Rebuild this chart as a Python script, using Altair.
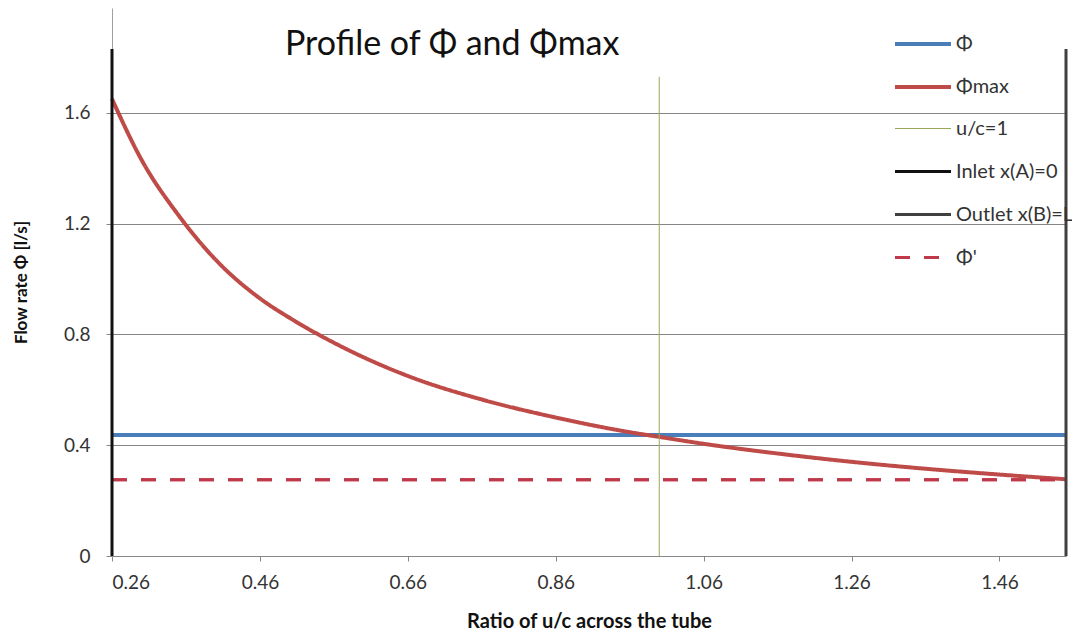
import altair as alt
import pandas as pd

# ---- data ----
series_names = ["Φ", "Φmax", "u/c=1", "Inlet x(A)=0", "Outlet x(B)=L", "Φ'"]
series_colors = ["#4a7ebb", "#be4b48", "#98a85a", "#111111", "#404040", "#c0394b"]
series_widths = [4, 4, 1, 3, 3, 3]
series_dash = [[1, 0], [1, 0], [1, 0], [1, 0], [1, 0], [15, 14]]

x_range = [0.26, 1.55]
phi_value = 0.437
phi_prime_value = 0.275

x_curve = [0.26, 0.30, 0.35, 0.40, 0.46, 0.50, 0.56, 0.66, 0.76, 0.86,
           0.96, 1.00, 1.06, 1.16, 1.26, 1.36, 1.46, 1.55]
phi_max = [1.65, 1.43, 1.23, 1.07, 0.93, 0.86, 0.77, 0.65, 0.565, 0.50,
           0.447, 0.43, 0.405, 0.37, 0.34, 0.315, 0.294, 0.277]

vline_names = ["u/c=1", "Inlet x(A)=0", "Outlet x(B)=L"]
vline_x = [1.00, 0.26, 1.55]
vline_top = [1.73, 1.83, 1.83]

x_ticks = [0.26, 0.46, 0.66, 0.86, 1.06, 1.26, 1.46]
y_ticks = [0, 0.4, 0.8, 1.2, 1.6]

# ---- tables ----
df_curve = pd.DataFrame({"x": x_curve, "y": phi_max, "series": "Φmax"})
df_h = pd.DataFrame({
    "x": x_range * 2,
    "y": [phi_value, phi_value, phi_prime_value, phi_prime_value],
    "series": ["Φ", "Φ", "Φ'", "Φ'"],
})
df_v = pd.DataFrame({"x": vline_x, "y": [0] * 3, "y2": vline_top, "series": vline_names})

FONT = "Lato"
PLOT_H = 548
Y_MAX = 548 / 277.0

xscale = alt.Scale(domain=x_range, nice=False, zero=False)
yscale = alt.Scale(domain=[0, Y_MAX], nice=False, zero=True)

color = alt.Color("series:N", scale=alt.Scale(domain=series_names, range=series_colors))
swidth = alt.StrokeWidth("series:N", scale=alt.Scale(type="ordinal", domain=series_names,
                                                      range=series_widths))
sdash = alt.StrokeDash("series:N", scale=alt.Scale(domain=series_names, range=series_dash))

xaxis = alt.Axis(values=x_ticks, format=".2f", title="Ratio of u/c across the tube",
                 grid=False, domainColor="#868686", tickColor="#868686", tickSize=5,
                 labelFontSize=19, labelFont=FONT, labelColor="#333", labelPadding=12,
                 titleFontSize=20, titleFont=FONT, titleFontWeight="bold", titleColor="#111",
                 titlePadding=19)
yaxis = alt.Axis(values=y_ticks, labelExpr="datum.value == 0 ? '0' : format(datum.value, '.1f')",
                 title="Flow rate Φ [l/s]", grid=True, gridColor="#868686", gridWidth=1,
                 domainColor="#a0a0a0", tickColor="#868686", tickSize=6,
                 labelFontSize=19, labelFont=FONT, labelColor="#333", labelPadding=16,
                 titleFontSize=17, titleFont=FONT, titleFontWeight="bold", titleColor="#111",
                 titlePadding=33)

h_lines = alt.Chart(df_h).mark_line().encode(
    x=alt.X("x:Q", scale=xscale, axis=xaxis),
    y=alt.Y("y:Q", scale=yscale, axis=yaxis),
    color=color, strokeWidth=swidth, strokeDash=sdash,
)
curve = alt.Chart(df_curve).mark_line(interpolate="monotone").encode(
    x=alt.X("x:Q", scale=xscale),
    y=alt.Y("y:Q", scale=yscale),
    color=color, strokeWidth=swidth, strokeDash=sdash,
)
vlines = alt.Chart(df_v).mark_rule().encode(
    x=alt.X("x:Q", scale=xscale),
    y=alt.Y("y:Q", scale=yscale),
    y2="y2:Q",
    color=color, strokeWidth=swidth, strokeDash=sdash,
)
h_dash = alt.Chart(df_h).transform_filter(alt.datum.series == "Φ'").mark_line().encode(
    x=alt.X("x:Q", scale=xscale),
    y=alt.Y("y:Q", scale=yscale),
    color=color, strokeWidth=swidth, strokeDash=sdash,
)

chart = alt.layer(h_lines, curve, h_dash, vlines).properties(
    width=954, height=PLOT_H,
    title=alt.TitleParams("Profile of Φ and Φmax", font=FONT, fontSize=34, fontWeight="normal",
                          color="#111", anchor="start", frame="group", dx=173, offset=-54),
    autosize=alt.AutoSizeParams(type="none"),
    padding={"left": 104, "top": 0, "right": 6, "bottom": 77},
).configure(background="white").configure_view(stroke=None).configure_legend(
    title=None, orient="none", legendX=781, legendY=6,
    symbolType="stroke", symbolSize=3136,
    labelFontSize=20, labelFont=FONT, labelColor="#333",
    rowPadding=3, labelOffset=3, padding=0,
)

chart.save("out.html", embed_options={"renderer": "svg", "actions": False})
